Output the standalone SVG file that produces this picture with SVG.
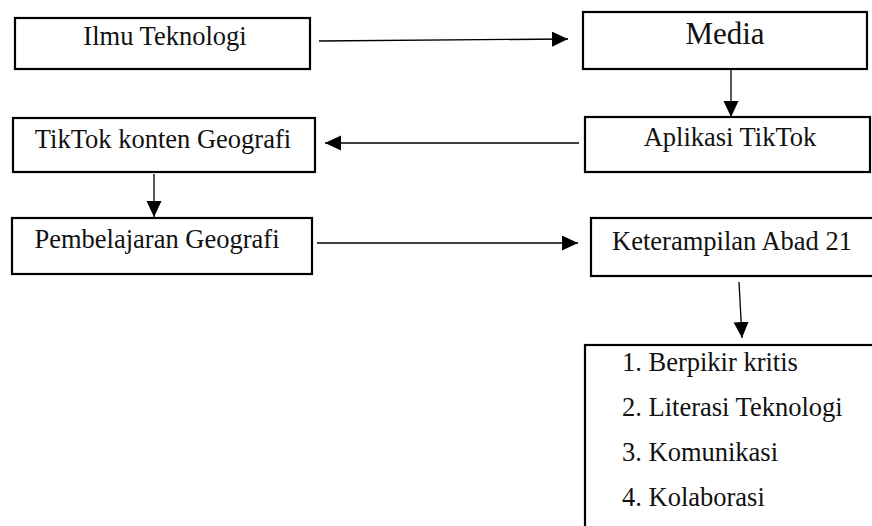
<svg xmlns="http://www.w3.org/2000/svg" width="872" height="526" viewBox="0 0 872 526">
<style>
.box{fill:#fff;stroke:#000;stroke-width:2.2}
.t{font-family:"Liberation Serif","Times New Roman",serif;font-size:26.5px;fill:#111;text-anchor:middle}
.l{font-family:"Liberation Serif","Times New Roman",serif;font-size:26.5px;fill:#111}
.c{stroke:#000;stroke-width:1.3;fill:none;marker-end:url(#ah)}
</style>
<defs>
<marker id="ah" markerUnits="userSpaceOnUse" markerWidth="16" markerHeight="16" refX="16" refY="7.5" orient="auto">
<path d="M0,0 L16,7.5 L0,15 Z" fill="#000"/>
</marker>
</defs>
<rect width="872" height="526" fill="#fff"/>
<g id="connectors">
<line class="c" x1="319" y1="41" x2="568" y2="39"/>
<line class="c" x1="731" y1="70" x2="731" y2="117"/>
<line class="c" x1="579" y1="143" x2="325" y2="143"/>
<line class="c" x1="154" y1="174" x2="154" y2="217"/>
<line class="c" x1="317" y1="243" x2="578" y2="243"/>
<line class="c" x1="739" y1="282" x2="742" y2="338"/>
</g>
<g id="ilmu">
<rect class="box" x="15" y="18" width="295" height="51"/>
<text class="t" x="165" y="45">Ilmu Teknologi</text>
</g>
<g id="media">
<rect class="box" x="583" y="12" width="284" height="57"/>
<text class="t" x="725" y="44" style="font-size:31px">Media</text>
</g>
<g id="tiktok-konten">
<rect class="box" x="13" y="118" width="302" height="54"/>
<text class="t" x="163" y="148">TikTok konten Geografi</text>
</g>
<g id="aplikasi">
<rect class="box" x="585" y="117" width="285" height="55"/>
<text class="t" x="730" y="146">Aplikasi TikTok</text>
</g>
<g id="pembelajaran">
<rect class="box" x="12" y="218" width="300" height="56"/>
<text class="t" x="157" y="248">Pembelajaran Geografi</text>
</g>
<g id="keterampilan">
<rect class="box" x="591" y="218" width="290" height="58"/>
<text class="t" x="732" y="250">Keterampilan Abad 21</text>
</g>
<g id="list">
<rect class="box" x="585" y="345" width="295" height="200"/>
<text class="l" x="622" y="371">1. Berpikir kritis</text>
<text class="l" x="622" y="416">2. Literasi Teknologi</text>
<text class="l" x="622" y="461">3. Komunikasi</text>
<text class="l" x="622" y="506">4. Kolaborasi</text>
</g>
</svg>
